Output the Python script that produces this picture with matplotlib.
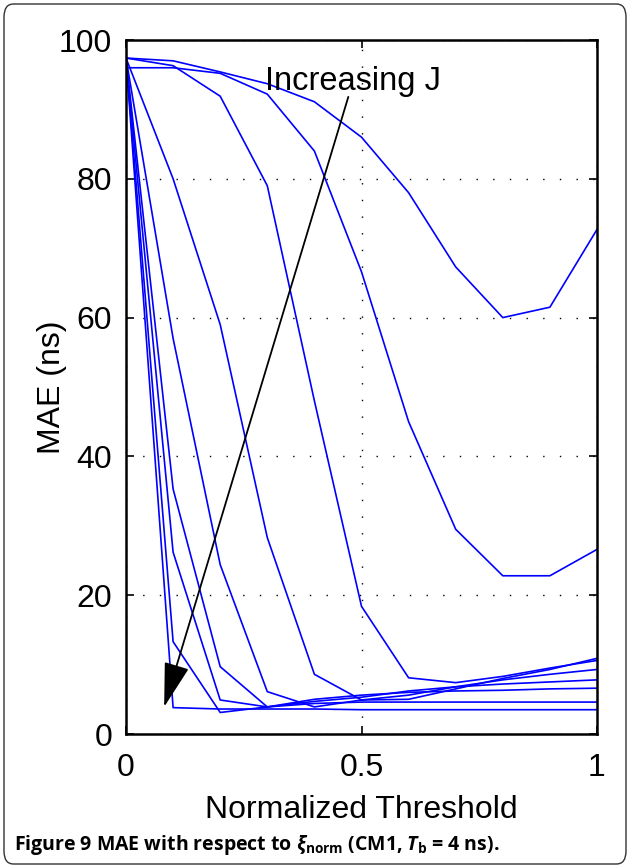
import matplotlib
matplotlib.use("Agg")
import matplotlib.pyplot as plt
from matplotlib.patches import FancyBboxPatch
import numpy as np

plt.rcParams['font.family'] = ['Liberation Sans', 'DejaVu Sans']
plt.rcParams['mathtext.fontset'] = 'custom'
plt.rcParams['mathtext.rm'] = 'Open Sans:bold'
plt.rcParams['mathtext.it'] = 'Open Sans:italic:bold'
plt.rcParams['mathtext.bf'] = 'Open Sans:bold'

threshold = [0.0, 0.1, 0.2, 0.3, 0.4, 0.5, 0.6, 0.7, 0.8, 0.9, 1.0]

mae_j1 = [97.4, 3.8, 3.6, 3.6, 3.6, 3.5, 3.5, 3.5, 3.5, 3.5, 3.5]
mae_j2 = [97.4, 13.3, 3.1, 3.9, 4.4, 4.6, 4.6, 4.6, 4.6, 4.6, 4.6]
mae_j3 = [97.4, 26.2, 4.9, 3.9, 5.0, 5.6, 6.0, 6.2, 6.3, 6.5, 6.6]
mae_j4 = [97.4, 35.3, 9.7, 3.9, 4.7, 5.3, 6.2, 6.8, 7.2, 7.5, 7.8]
mae_j5 = [97.4, 57.0, 24.4, 6.1, 3.9, 4.9, 5.6, 6.8, 7.8, 8.6, 9.3]
mae_j6 = [97.4, 80.0, 59.0, 28.3, 8.6, 4.9, 5.0, 6.5, 8.0, 9.3, 10.9]
mae_j7 = [97.4, 96.3, 91.9, 79.0, 48.0, 18.4, 8.1, 7.4, 8.3, 9.5, 10.6]
mae_j8 = [96.0, 96.0, 95.2, 92.2, 84.0, 66.6, 45.0, 29.5, 22.8, 22.8, 26.6]
mae_j9 = [97.4, 97.0, 95.4, 93.7, 91.1, 86.0, 78.0, 67.3, 60.0, 61.5, 72.7]

series = [mae_j1, mae_j2, mae_j3, mae_j4, mae_j5, mae_j6, mae_j7, mae_j8, mae_j9]

xticks = [0, 0.5, 1]
xticklabels = ['0', '0.5', '1']
yticks = [0, 20, 40, 60, 80, 100]

fig = plt.figure(figsize=(6.3, 8.68), dpi=100)

# outer rounded border
border = FancyBboxPatch((4/630, 4/868), 622/630, 860/868,
                        boxstyle="round,pad=0,rounding_size=0.015",
                        transform=fig.transFigure, facecolor='none',
                        edgecolor='#333333', linewidth=1.0, zorder=-5)
fig.patches.append(border)

ax = fig.add_axes([126/630, 1-734/868, 471/630, 694/868])

for s in series:
    ax.plot(threshold, s, color='#0000ff', lw=1.2)

ax.set_xlim(0, 1)
ax.set_ylim(0, 100)
ax.set_xticks(xticks)
ax.set_xticklabels(xticklabels)
ax.set_yticks(yticks)

ax.grid(True, color='black', linestyle=(0, (1, 11)), linewidth=1.0)
for sp in ax.spines.values():
    sp.set_linewidth(1.8)
ax.tick_params(direction='in', length=6, width=1.2, labelsize=23,
               top=True, right=True)
ax.tick_params(axis='x', pad=14)
ax.tick_params(axis='y', pad=10)

ax.set_xlabel('Normalized Threshold', fontsize=23, labelpad=8)
ax.set_ylabel('MAE (ns)', fontsize=23, labelpad=-6)

ax.annotate('', xy=(0.081, 3.9), xytext=(0.472, 91.8),
            arrowprops=dict(arrowstyle='-|>,head_length=1.4,head_width=0.4',
                            mutation_scale=20, color='black', lw=1.3,
                            shrinkA=0, shrinkB=0))
ax.text(0.296, 92.8, 'Increasing J', fontsize=23.5, ha='left', va='baseline')

fig.text(14/630, 1-850/868,
         r"Figure 9 MAE with respect to $\xi_{\mathrm{norm}}$ (CM1, $T_{\mathrm{b}}$ = 4 ns).",
         fontsize=14, family='Open Sans', fontweight='bold',
         ha='left', va='baseline')

fig.savefig('out.png', dpi=100)
